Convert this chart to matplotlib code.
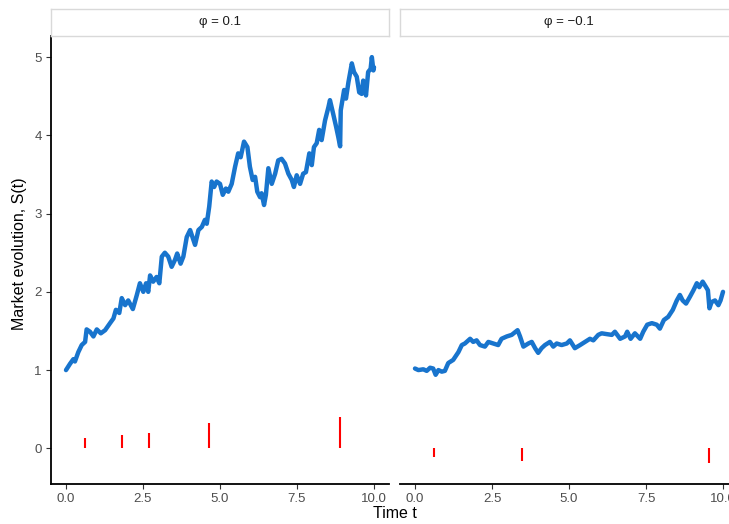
import numpy as np
import matplotlib.pyplot as plt

plt.rcParams['font.family'] = ['Liberation Sans', 'DejaVu Sans']

#- trayectoria con phi = 0.1
t_pos = [0.00, 0.13, 0.24, 0.29, 0.40, 0.51, 0.62, 0.67, 0.78, 0.89, 1.00, 1.13, 1.27, 1.43,
         1.54, 1.62, 1.73, 1.81, 1.92, 2.02, 2.17, 2.30, 2.40, 2.51, 2.60, 2.67, 2.73, 2.83,
         2.94, 3.03, 3.11, 3.21, 3.32, 3.43, 3.54, 3.61, 3.72, 3.81, 3.92, 4.03, 4.19, 4.30,
         4.41, 4.51, 4.57, 4.65, 4.73, 4.81, 4.89, 5.00, 5.09, 5.19, 5.27, 5.38, 5.49, 5.59,
         5.67, 5.78, 5.89, 5.97, 6.06, 6.14, 6.21, 6.30, 6.35, 6.43, 6.49, 6.57, 6.68, 6.79,
         6.89, 7.00, 7.11, 7.22, 7.33, 7.40, 7.49, 7.60, 7.70, 7.79, 7.90, 7.98, 8.05, 8.14,
         8.22, 8.30, 8.41, 8.52, 8.57, 8.66, 8.77, 8.84, 8.90, 8.92, 9.03, 9.09, 9.17, 9.28,
         9.35, 9.44, 9.52, 9.60, 9.65, 9.74, 9.81, 9.89, 9.93, 9.98, 10.00]
S_pos = [1.00, 1.08, 1.14, 1.11, 1.23, 1.32, 1.36, 1.52, 1.49, 1.43, 1.52, 1.47, 1.51, 1.60,
         1.66, 1.77, 1.73, 1.92, 1.83, 1.89, 1.78, 1.96, 2.11, 2.00, 2.11, 2.00, 2.21, 2.13,
         2.19, 2.11, 2.45, 2.50, 2.45, 2.32, 2.41, 2.49, 2.36, 2.45, 2.70, 2.79, 2.60, 2.79,
         2.83, 2.92, 2.87, 3.09, 3.41, 3.34, 3.41, 3.38, 3.24, 3.32, 3.28, 3.38, 3.60, 3.77,
         3.72, 3.92, 3.85, 3.60, 3.43, 3.47, 3.28, 3.21, 3.26, 3.11, 3.24, 3.58, 3.38, 3.51,
         3.68, 3.70, 3.64, 3.51, 3.43, 3.34, 3.49, 3.38, 3.51, 3.53, 3.77, 3.62, 3.85, 3.90,
         4.07, 3.94, 4.19, 4.36, 4.45, 4.30, 4.11, 3.98, 3.86, 4.32, 4.58, 4.47, 4.68, 4.92,
         4.81, 4.75, 4.55, 4.53, 4.70, 4.51, 4.81, 4.85, 5.00, 4.83, 4.87]

#- saltos con phi = 0.1
tj_pos = [0.62, 1.81, 2.69, 4.65, 8.91]
J_pos = [0.13, 0.17, 0.19, 0.32, 0.40]

#- trayectoria con phi = -0.1
t_neg = [0.00, 0.11, 0.27, 0.38, 0.49, 0.59, 0.67, 0.76, 0.87, 0.97, 1.08, 1.24, 1.41, 1.52,
         1.62, 1.79, 1.89, 2.00, 2.11, 2.27, 2.38, 2.54, 2.70, 2.81, 2.98, 3.14, 3.33, 3.41,
         3.52, 3.68, 3.79, 3.90, 4.00, 4.11, 4.22, 4.38, 4.49, 4.60, 4.76, 4.93, 5.03, 5.19,
         5.36, 5.52, 5.68, 5.79, 5.95, 6.06, 6.22, 6.39, 6.49, 6.66, 6.82, 6.89, 7.00, 7.14,
         7.31, 7.41, 7.54, 7.69, 7.85, 7.95, 8.08, 8.22, 8.37, 8.50, 8.60, 8.69, 8.80, 8.93,
         9.04, 9.15, 9.23, 9.34, 9.45, 9.51, 9.56, 9.63, 9.74, 9.85, 9.92, 10.00]
S_neg = [1.02, 1.00, 1.01, 0.99, 1.03, 1.02, 0.94, 1.00, 0.98, 0.99, 1.09, 1.13, 1.23, 1.32,
         1.34, 1.40, 1.36, 1.38, 1.32, 1.30, 1.36, 1.34, 1.32, 1.40, 1.43, 1.45, 1.51, 1.43,
         1.30, 1.34, 1.36, 1.28, 1.22, 1.28, 1.32, 1.36, 1.30, 1.34, 1.32, 1.34, 1.38, 1.28,
         1.32, 1.36, 1.40, 1.38, 1.45, 1.47, 1.46, 1.45, 1.49, 1.40, 1.43, 1.49, 1.40, 1.47,
         1.40, 1.49, 1.58, 1.60, 1.58, 1.53, 1.64, 1.68, 1.77, 1.89, 1.96, 1.89, 1.85, 1.94,
         2.02, 2.11, 2.06, 2.13, 2.06, 2.02, 1.79, 1.87, 1.89, 1.83, 1.89, 2.00]

#- saltos con phi = -0.1
tj_neg = [0.62, 3.46, 9.56]
J_neg = [-0.11, -0.16, -0.19]

titulos = ['φ = 0.1', 'φ = \u22120.1']

#==============================================================================
#- figura
#==============================================================================
fig = plt.figure(figsize=(7.29, 5.24), dpi=100)
W, H = 729., 524.

azul = '#1874CD'
gris_txt = '#4D4D4D'

x0s = [50.6, 399.6]
ancho = 338.8
y_bot, y_top = 484., 36.
paneles = [(t_pos, S_pos, tj_pos, J_pos), (t_neg, S_neg, tj_neg, J_neg)]

for i, (t, S, tj, J) in enumerate(paneles):
    ax = fig.add_axes([x0s[i] / W, (H - y_bot) / H, ancho / W, (y_bot - y_top) / H])
    ax.plot(t, S, color=azul, lw=3.2, solid_joinstyle='round', solid_capstyle='round')
    ax.vlines(tj, 0, J, color='red', lw=1.5)
    ax.set_xlim(-0.5, 10.5)
    ax.set_ylim(-0.456, 5.27)
    ax.set_xticks([0, 2.5, 5, 7.5, 10])
    ax.set_xticklabels(['0.0', '2.5', '5.0', '7.5', '10.0'])
    ax.set_yticks([0, 1, 2, 3, 4, 5])
    for s in ['top', 'right']:
        ax.spines[s].set_visible(False)
    ax.spines['bottom'].set_linewidth(1.3)
    ax.spines['left'].set_linewidth(1.3)
    ax.tick_params(colors='#333333', labelcolor=gris_txt, labelsize=9.5, length=3.5,
                   width=0.8, pad=3)
    if i == 1:
        ax.spines['left'].set_visible(False)
        ax.tick_params(axis='y', left=False, labelleft=False)

    #- etiqueta de faceta
    st = fig.add_axes([x0s[i] / W, (H - y_top) / H, ancho / W, 27. / H])
    st.set_xticks([])
    st.set_yticks([])
    for s in st.spines.values():
        s.set_color('#D9D9D9')
        s.set_linewidth(1.0)
    st.text(0.5, 0.5, titulos[i], ha='center', va='center', fontsize=9.5,
            color='#1A1A1A', transform=st.transAxes)

fig.text(395 / W, (H - 514) / H, 'Time t', ha='center', va='center', fontsize=11.5)
fig.text(20 / W, (H - 254) / H, 'Market evolution, S(t)', ha='center', va='center',
         rotation=90, fontsize=11.5)

plt.savefig('out.png', dpi=100)
plt.close()
